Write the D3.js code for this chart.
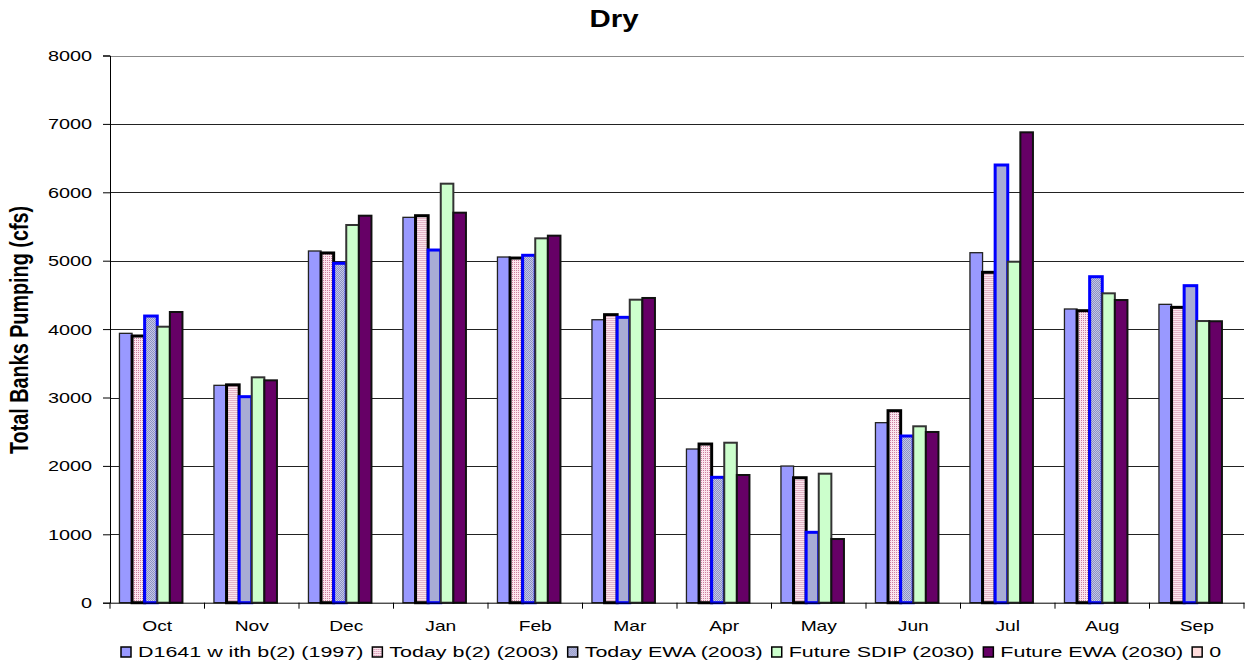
<!DOCTYPE html>
<html>
<head>
<meta charset="utf-8">
<script src="https://cdn.jsdelivr.net/npm/d3@7"></script>
<style>
  html, body { margin: 0; padding: 0; background: #fff; }
  svg { display: block; }
  text { font-family: "Liberation Sans", Arial, sans-serif; }
</style>
</head>
<body>
<svg id="chart" width="1249" height="667"></svg>
<script>
const months = ["Oct","Nov","Dec","Jan","Feb","Mar","Apr","May","Jun","Jul","Aug","Sep"];
const seriesNames = ["D1641 w ith b(2) (1997)","Today b(2) (2003)","Today EWA (2003)","Future SDIP (2030)","Future EWA (2030)","0"];
const d1641 =      [3938, 3178, 5142, 5634, 5054, 4137, 2247, 1998, 2632, 5117, 4294, 4362];
const todayB2 =    [3899, 3185, 5113, 5658, 5039, 4211, 2320, 1827, 2807, 4830, 4269, 4318];
const todayEWA =   [4191, 3012, 4962, 5156, 5079, 4172, 1833, 1029, 2437, 6399, 4766, 4635];
const futureSDIP = [4035, 3295, 5522, 6126, 5327, 4430, 2339, 1886, 2579, 4985, 4523, 4118];
const futureEWA =  [4250, 3251, 5658, 5702, 5366, 4455, 1867,  931, 2496, 6877, 4425, 4115];
const zeroSeries = [0, 0, 0, 0, 0, 0, 0, 0, 0, 0, 0, 0];
const yTicks = [0, 1000, 2000, 3000, 4000, 5000, 6000, 7000, 8000];

const seriesValues = [d1641, todayB2, todayEWA, futureSDIP, futureEWA, zeroSeries];

const svg = d3.select("#chart");
const defs = svg.append("defs");

// patterns
const p1 = defs.append("pattern").attr("id","pinkPat").attr("width",2).attr("height",2).attr("patternUnits","userSpaceOnUse");
p1.append("rect").attr("width",2).attr("height",2).attr("fill","#fbe6ee");
p1.append("rect").attr("width",1).attr("height",1).attr("fill","#cc7fa0");
const p2 = defs.append("pattern").attr("id","bluePat").attr("width",2).attr("height",2).attr("patternUnits","userSpaceOnUse");
p2.append("rect").attr("width",2).attr("height",2).attr("fill","#c4c8e6");
p2.append("rect").attr("width",1).attr("height",1).attr("fill","#8c90c4");
p2.append("rect").attr("x",1).attr("y",1).attr("width",1).attr("height",1).attr("fill","#8c90c4");

const styles = [
  {fill:"#9999ff", stroke:"#222", sw:1.3},
  {fill:"url(#pinkPat)", stroke:"#000", sw:3},
  {fill:"url(#bluePat)", stroke:"#0000ff", sw:3},
  {fill:"#ccffcc", stroke:"#333", sw:2},
  {fill:"#660066", stroke:"#111", sw:2},
  {fill:"#ffdcdc", stroke:"#000", sw:1}
];

const plotLeft = 110, plotRight = 1244, plotTop = 55.5, plotBottom = 602.7;
const stretch = 1.28;     // text in the picture is horizontally widened
const legendStretch = 1.43;

function widen(sel, k) {
  sel.each(function() {
    const w = this.getComputedTextLength();
    d3.select(this).attr("textLength", w * k).attr("lengthAdjust", "spacingAndGlyphs");
  });
}

const x0 = d3.scaleBand().domain(months).range([plotLeft, plotRight]).padding(0);
const x1 = d3.scaleBand().domain(d3.range(seriesNames.length)).range([0, x0.bandwidth()])
  .paddingInner(0).paddingOuter(0.75);
const y = d3.scaleLinear().domain([0, 8000]).range([plotBottom, plotTop]);

// gridlines
svg.append("g").selectAll("line").data(yTicks.filter(d => d > 0)).join("line")
  .attr("x1", plotLeft).attr("x2", plotRight)
  .attr("y1", d => Math.round(y(d)) + 0.5).attr("y2", d => Math.round(y(d)) + 0.5)
  .attr("stroke", d => d === 8000 ? "#888" : "#222").attr("stroke-width", 1);

// bars
const groups = svg.append("g").selectAll("g").data(months).join("g")
  .attr("transform", d => `translate(${x0(d)},0)`);
groups.selectAll("rect")
  .data((m, i) => seriesValues.map((arr, s) => ({s, v: arr[i]})).filter(d => d.v > 0))
  .join("rect")
  .attr("x", d => x1(d.s))
  .attr("width", x1.bandwidth())
  .attr("y", d => y(d.v))
  .attr("height", d => y(0) - y(d.v))
  .attr("fill", d => styles[d.s].fill)
  .attr("stroke", d => styles[d.s].stroke)
  .attr("stroke-width", d => styles[d.s].sw);

// y axis
const yAxis = d3.axisLeft(y).tickValues(yTicks).tickSize(7).tickPadding(11).tickFormat(d3.format("d"));
const gy = svg.append("g").attr("transform", `translate(${plotLeft},0)`).call(yAxis);
gy.select(".domain").attr("stroke", "#000");
gy.selectAll(".tick line").attr("stroke", "#000");
gy.selectAll("text").attr("font-size", 15.5).attr("fill", "#000").attr("font-family", "Liberation Sans, Arial, sans-serif");
widen(gy.selectAll("text"), stretch);

// x axis
const xAxis = d3.axisBottom(x0).tickSize(0).tickPadding(18);
const gx = svg.append("g").attr("transform", `translate(0,${plotBottom})`).call(xAxis);
gx.select(".domain").attr("stroke", "#000");
gx.selectAll("text").attr("font-size", 15).attr("fill", "#000").attr("font-family", "Liberation Sans, Arial, sans-serif");
widen(gx.selectAll("text"), stretch);
// category separator ticks
gx.append("g").selectAll("line").data(months.concat(["end"])).join("line")
  .attr("x1", (d, i) => i < months.length ? x0(d) : plotRight)
  .attr("x2", (d, i) => i < months.length ? x0(d) : plotRight)
  .attr("y1", 0).attr("y2", 6).attr("stroke", "#000");

// title
const title = svg.append("text").attr("x", 614).attr("y", 27).attr("text-anchor", "middle")
  .attr("font-weight", "bold").attr("font-size", 23)
  .text("Dry");
widen(title, stretch);

// y title (rotated; widened across the glyph height)
svg.append("text").attr("transform", "translate(28,330) rotate(-90) scale(1,1.3)").attr("text-anchor", "middle")
  .attr("font-weight", "bold").attr("font-size", 19.8)
  .text("Total Banks Pumping (cfs)");

// legend
const legend = svg.append("g");
const items = legend.selectAll("g").data(seriesNames).join("g");
items.append("rect").attr("x", 0).attr("y", -10).attr("width", 10).attr("height", 10)
  .attr("fill", (d, i) => styles[i].fill).attr("stroke", "#000").attr("stroke-width", 1.5);
items.append("text").attr("x", 17).attr("y", 0).attr("font-size", 15).text(d => d);
let xpos = 121;
items.each(function() {
  const g = d3.select(this);
  g.attr("transform", `translate(${xpos},657)`);
  const t = g.select("text");
  const w = t.node().getComputedTextLength() * legendStretch;
  t.attr("textLength", w).attr("lengthAdjust", "spacingAndGlyphs");
  xpos += 17 + w + 9;
});
</script>
</body>
</html>
